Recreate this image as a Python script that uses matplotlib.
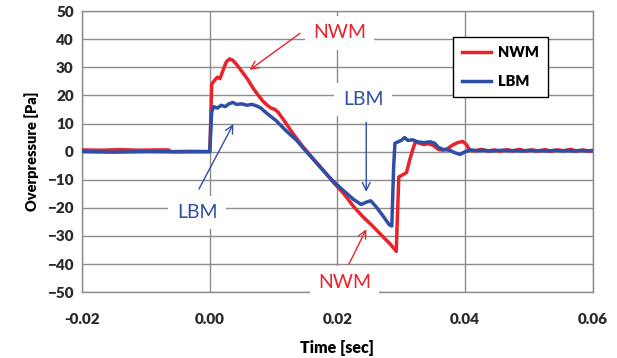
import numpy as np
import matplotlib
matplotlib.use("Agg")
import matplotlib.pyplot as plt

# Zeit [s] und Überdruck [Pa]
t_nwm = [-0.020, -0.017, -0.014, -0.011, -0.0085, -0.0065, -0.006, -0.003, -0.0003, 0.0,
         0.0003, 0.0008, 0.0012, 0.0016, 0.0020, 0.0026, 0.0031, 0.0036, 0.0042, 0.0052,
         0.0060, 0.0068, 0.0076, 0.0083, 0.0090, 0.0096, 0.0102, 0.0107, 0.0115, 0.0130,
         0.0145, 0.0160, 0.0177, 0.0193, 0.0210, 0.0225, 0.0239, 0.0255, 0.0270, 0.0283,
         0.0292, 0.0294, 0.0296, 0.0300, 0.0308, 0.0313, 0.0318, 0.0322, 0.0328, 0.0335,
         0.0342, 0.0350, 0.0358, 0.0365, 0.0372, 0.0380, 0.0388, 0.0396, 0.0402, 0.0407,
         0.0415, 0.0425, 0.0435, 0.0445, 0.0455, 0.0465, 0.0475, 0.0485, 0.0495, 0.0505,
         0.0515, 0.0525, 0.0535, 0.0545, 0.0555, 0.0565, 0.0575, 0.0585, 0.0595, 0.0600]
p_nwm = [0.6, 0.5, 0.7, 0.5, 0.6, 0.6, 0.0, 0.1, 0.0, 0.0,
         24.0, 25.5, 26.5, 26.0, 28.5, 32.0, 33.0, 32.5, 31.0, 28.0,
         25.5, 22.5, 20.0, 18.0, 16.5, 15.5, 15.0, 14.0, 11.5, 6.5,
         2.0, -2.0, -6.4, -10.8, -15.0, -19.5, -23.0, -26.5, -30.0, -33.0,
         -35.5, -22.0, -9.0, -8.5, -7.5, -3.0, 0.8, 3.5, 3.0, 2.5,
         2.8, 2.2, 0.8, 0.5, 1.0, 2.3, 3.2, 3.6, 2.5, 0.5,
         0.3, 0.8, 0.2, 0.6, 0.1, 0.7, 0.3, 0.8, 0.2, 0.6,
         0.2, 0.7, 0.1, 0.6, 0.3, 0.8, 0.2, 0.6, 0.1, 0.4]

t_lbm = [-0.020, -0.015, -0.010, -0.005, -0.0003, 0.0, 0.0003, 0.0006, 0.0012, 0.0018,
         0.0024, 0.0030, 0.0036, 0.0042, 0.0050, 0.0058, 0.0066, 0.0073, 0.0080, 0.0090,
         0.0104, 0.0120, 0.0136, 0.0150, 0.0165, 0.0177, 0.0193, 0.0210, 0.0225, 0.0237,
         0.0245, 0.0252, 0.0260, 0.0270, 0.0281, 0.0285, 0.0288, 0.0290, 0.0295, 0.0300,
         0.0305, 0.0310, 0.0318, 0.0325, 0.0335, 0.0345, 0.0352, 0.0358, 0.0365, 0.0375,
         0.0385, 0.0392, 0.0400, 0.0408, 0.0420, 0.0430, 0.0440, 0.0450, 0.0460, 0.0470,
         0.0480, 0.0490, 0.0500, 0.0510, 0.0520, 0.0530, 0.0540, 0.0550, 0.0560, 0.0570,
         0.0580, 0.0590, 0.0600]
p_lbm = [0.0, -0.2, 0.0, -0.1, 0.0, 0.0, 14.0, 16.0, 15.5, 16.5,
         16.0, 17.0, 17.5, 16.8, 17.0, 16.5, 16.8, 16.3, 15.5, 13.5,
         11.0, 7.3, 4.0, 0.3, -3.5, -6.6, -10.5, -14.0, -17.0, -18.8,
         -18.0, -17.5, -19.5, -22.5, -26.0, -26.5, -5.0, 3.0, 3.5, 4.0,
         5.0, 4.0, 4.2, 3.5, 3.2, 3.5, 3.0, 1.5, 0.8, 0.5,
         -0.5, -1.0, 0.0, 0.6, 0.3, 0.5, 0.2, 0.4, 0.5, 0.3,
         0.4, 0.2, 0.5, 0.3, 0.4, 0.2, 0.5, 0.3, 0.4, 0.2,
         0.4, 0.3, 0.4]

x_ticks = [-0.02, 0.00, 0.02, 0.04, 0.06]
y_ticks = list(range(-50, 51, 10))

rot = "#e8232b"
blau = "#2f4ea5"
grau = "#8c8c8c"

plt.rcParams['font.family'] = ['Lato', 'DejaVu Sans']

fig = plt.figure(figsize=(6.17, 3.58), dpi=100)
ax = fig.add_axes([0.133, 0.184, 0.828, 0.785])

ax.plot(t_nwm, p_nwm, color=rot, lw=2.5, label="NWM", zorder=3)
ax.plot(t_lbm, p_lbm, color=blau, lw=2.5, label="LBM", zorder=4)

ax.set_xlim(-0.02, 0.06)
ax.set_ylim(-50, 50)
ax.set_xticks(x_ticks)
ax.set_xticklabels([f"{v:.2f}" for v in x_ticks])
ax.set_yticks(y_ticks)
ax.grid(True, color=grau, lw=1.0)
ax.set_axisbelow(True)
for s in ax.spines.values():
    s.set_color(grau)
    s.set_linewidth(1.0)
ax.tick_params(length=0, labelsize=11, labelcolor="#2b2b2b", pad=6)
ax.tick_params(axis="x", pad=15)
for lab in ax.get_xticklabels() + ax.get_yticklabels():
    lab.set_fontweight("heavy")

ax.set_xlabel("Time [sec]", fontsize=11.5, fontweight="heavy", labelpad=10)
ax.set_ylabel("Overpressure [Pa]", fontsize=10.5, fontweight="heavy", labelpad=6)

# Beschriftungen mit Pfeilen
box = dict(facecolor="white", edgecolor="none", pad=6)
ax.annotate("", xy=(0.0059, 28.5), xytext=(0.0145, 42.7),
            arrowprops=dict(arrowstyle="->", color=rot, lw=1.0, mutation_scale=14), zorder=6)
ax.text(0.0203, 42.3, "NWM", color=rot, fontsize=14, ha="center", va="center", bbox=box, zorder=5)

ax.annotate("", xy=(0.0245, -15.3), xytext=(0.0245, 11.4),
            arrowprops=dict(arrowstyle="->", color=blau, lw=1.0, mutation_scale=14), zorder=6)
ax.text(0.0240, 18.5, "LBM", color=blau, fontsize=14, ha="center", va="center", bbox=box, zorder=5)

ax.annotate("", xy=(0.0039, 10.7), xytext=(-0.0019, -14.2),
            arrowprops=dict(arrowstyle="->", color=blau, lw=1.0, mutation_scale=14), zorder=6)
ax.text(-0.0020, -21.7, "LBM", color=blau, fontsize=14, ha="center", va="center", bbox=box, zorder=5)

ax.annotate("", xy=(0.0247, -26.7), xytext=(0.0216, -40.9),
            arrowprops=dict(arrowstyle="->", color=rot, lw=1.0, mutation_scale=14), zorder=6)
ax.text(0.0211, -46.6, "NWM", color=rot, fontsize=14, ha="center", va="center", bbox=box, zorder=5)

leg = ax.legend(loc="upper right", bbox_to_anchor=(0.912, 0.9075), frameon=True, fancybox=False,
                edgecolor="black", framealpha=1, handlelength=2.0, handletextpad=0.5,
                labelspacing=1.1, borderpad=0.6, borderaxespad=0,
                prop={"weight": "heavy", "size": 10.5})
leg.get_frame().set_linewidth(1.0)
leg.set_zorder(7)

fig.savefig("out.png", dpi=100)
